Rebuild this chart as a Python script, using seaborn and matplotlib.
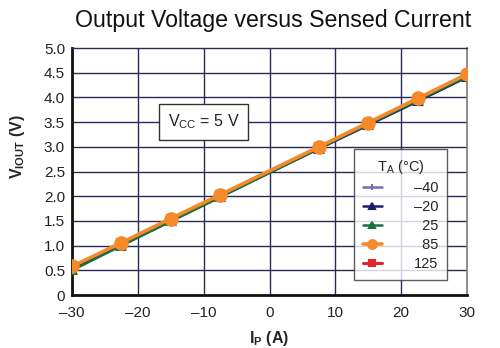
import matplotlib
matplotlib.use("Agg")
import matplotlib.pyplot as plt
import seaborn as sns
import pandas as pd

# Sensed current (A) and output voltage (V) per ambient temperature
current_a = [-30, -22.5, -15, -7.5, 7.5, 15, 22.5, 30]
temps = ["\u201340", "\u201320", "25", "85", "125"]
v_m40 = [0.54, 1.03, 1.52, 2.01, 2.98, 3.47, 3.95, 4.44]
v_m20 = [0.52, 1.01, 1.50, 1.99, 2.96, 3.44, 3.92, 4.41]
v_25 = [0.50, 1.00, 1.49, 1.98, 2.97, 3.46, 3.94, 4.43]
v_85 = [0.58, 1.06, 1.55, 2.03, 3.00, 3.49, 3.98, 4.47]
v_125 = [0.57, 1.05, 1.54, 2.02, 2.99, 3.48, 3.97, 4.46]
x_ticks = [-30, -20, -10, 0, 10, 20, 30]
x_tick_labels = ["\u201330", "\u201320", "\u201310", "0", "10", "20", "30"]
y_ticks = [0, 0.5, 1.0, 1.5, 2.0, 2.5, 3.0, 3.5, 4.0, 4.5, 5.0]
y_tick_labels = ["0", "0.5", "1.0", "1.5", "2.0", "2.5", "3.0", "3.5", "4.0", "4.5", "5.0"]

series = dict(zip(temps, [v_m40, v_m20, v_25, v_85, v_125]))
rows = []
for t, vals in series.items():
    for x, v in zip(current_a, vals):
        rows.append({"I": x, "V": v, "T": t})
df = pd.DataFrame(rows)

sns.set_theme(style="white")
plt.rcParams["font.family"] = ["Liberation Sans", "DejaVu Sans"]
plt.rcParams["mathtext.fontset"] = "custom"
plt.rcParams["mathtext.rm"] = "Liberation Sans"
plt.rcParams["mathtext.it"] = "Liberation Sans"
plt.rcParams["mathtext.bf"] = "Liberation Sans:bold"

colors = {"\u201340": "#7a68b4", "\u201320": "#1c1f66", "25": "#1c6e3c",
          "85": "#f58a2a", "125": "#e3262b"}
markers = {"\u201340": "|", "\u201320": "^", "25": "^", "85": "o", "125": "s"}
msize = {"\u201340": 6, "\u201320": 6, "25": 6, "85": 9, "125": 6}
lw = {"\u201340": 1.8, "\u201320": 1.8, "25": 1.8, "85": 2.6, "125": 2.2}

fig = plt.figure(figsize=(5.0, 3.48), dpi=100)
ax = fig.add_axes([0.144, 0.152, 0.790, 0.710])

grid_c = "#2a2a58"
for y in y_ticks[1:-1]:
    ax.axhline(y, color=grid_c, lw=1.0, zorder=0)
for x in x_ticks[1:-1]:
    ax.axvline(x, color=grid_c, lw=1.0, zorder=0)

draw_order = ["\u201340", "125", "\u201320", "25", "85"]
for t in draw_order:
    sub = df[df["T"] == t]
    sns.lineplot(data=sub, x="I", y="V", ax=ax, color=colors[t],
                 marker=markers[t], markersize=msize[t], markeredgewidth=1.5,
                 markeredgecolor=colors[t], lw=lw[t], label=t,
                 legend=False, zorder=3)

ax.set_xlim(-30, 30)
ax.set_ylim(0, 5)
ax.set_xticks(x_ticks)
ax.set_xticklabels(x_tick_labels)
ax.set_yticks(y_ticks)
ax.set_yticklabels(y_tick_labels)
ax.tick_params(length=0, labelsize=11, colors="#222222")
ax.tick_params(axis="x", pad=8)
ax.tick_params(axis="y", pad=5)
ax.set_xlabel(r"$\mathbf{I_P}$ (A)", fontsize=11.5, fontweight="bold", labelpad=6)
ax.set_ylabel(r"$\mathbf{V_{IOUT}}$ (V)", fontsize=11.5, fontweight="bold")
ax.yaxis.set_label_coords(-0.114, 0.60)

for side in ["left", "bottom"]:
    ax.spines[side].set_color("#111111")
    ax.spines[side].set_linewidth(2.0)
ax.spines["top"].set_color(grid_c)
ax.spines["top"].set_linewidth(1.0)
ax.spines["right"].set_color("#7a7a7a")
ax.spines["right"].set_linewidth(1.2)

fig.suptitle("Output Voltage versus Sensed Current", fontsize=16.7,
             x=0.547, y=0.975, color="#111111")

ax.text(-10, 3.5, r"V$_\mathrm{CC}$ = 5 V", ha="center", va="center",
        fontsize=11.5, color="#222222", zorder=5,
        bbox=dict(boxstyle="square,pad=0.55", fc="white", ec="#333333", lw=1.0))

handles, labels = ax.get_legend_handles_labels()
by_label = dict(zip(labels, handles))
pad = "\u2007"
leg_labels = [pad * (3 - len(t)) + t for t in temps]
leg = ax.legend([by_label[t] for t in temps], leg_labels,
                title="T$_\\mathrm{A}$ (\u00b0C)", loc="lower right",
                bbox_to_anchor=(0.949, 0.061), frameon=True, fancybox=False,
                fontsize=10.5, title_fontsize=10.5, handlelength=1.3,
                handletextpad=2.2, labelspacing=0.35, borderpad=0.6,
                borderaxespad=0, markerscale=0.7)
leg.get_frame().set_edgecolor("#333333")
leg.get_frame().set_linewidth(1.0)
leg.set_zorder(6)

fig.savefig("out.png", dpi=100)
